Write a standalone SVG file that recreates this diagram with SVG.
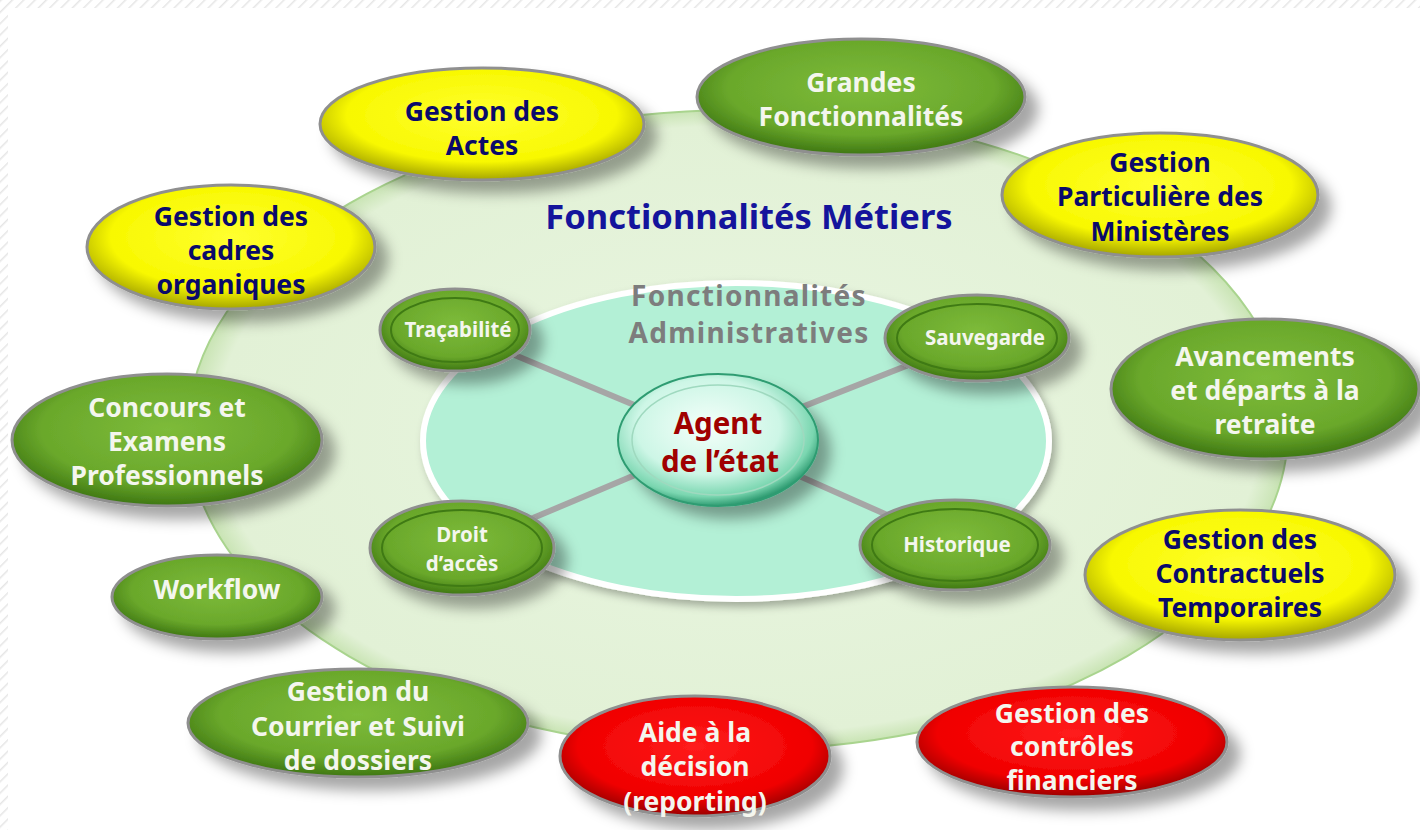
<svg xmlns="http://www.w3.org/2000/svg" width="1420" height="830" viewBox="0 0 1420 830">
<defs>
<style>
.t{font-family:"Noto Sans","DejaVu Sans",sans-serif;font-weight:bold;text-anchor:middle}
.wt{fill:#f4f6ee;font-size:26.5px}
.nt{fill:#0a0a6a;font-size:26.5px}
.st{fill:#f4f6ee;font-size:20.5px}
.adm{font-size:28px;fill:#7d7d7d;letter-spacing:1.3px}
.node{stroke:#8f8f8f;stroke-width:3}
.ring{fill:none;stroke:#3f7a14;stroke-width:2}
.conn{stroke:#a6a6a6;stroke-width:6;stroke-linecap:round}
</style>
<pattern id="hatch" width="8" height="8" patternUnits="userSpaceOnUse" patternTransform="rotate(45)">
<rect width="8" height="8" fill="#ffffff"/>
<line x1="0" y1="0" x2="0" y2="8" stroke="#e6e6e6" stroke-width="3"/>
</pattern>
<radialGradient id="gGreen" cx="50%" cy="42%" r="58%">
<stop offset="0" stop-color="#7dbb3a"/>
<stop offset="0.7" stop-color="#6aa82b"/>
<stop offset="1" stop-color="#3d7612"/>
</radialGradient>
<radialGradient id="gYellow" cx="50%" cy="42%" r="58%">
<stop offset="0" stop-color="#ffff30"/>
<stop offset="0.72" stop-color="#f8f800"/>
<stop offset="1" stop-color="#a5a500"/>
</radialGradient>
<radialGradient id="gRed" cx="50%" cy="42%" r="58%">
<stop offset="0" stop-color="#ff1c1c"/>
<stop offset="0.75" stop-color="#f00000"/>
<stop offset="1" stop-color="#9a0000"/>
</radialGradient>
<radialGradient id="gCenter" cx="45%" cy="40%" r="60%">
<stop offset="0" stop-color="#f4fffa"/>
<stop offset="0.6" stop-color="#cdf6e6"/>
<stop offset="0.88" stop-color="#7ad6b0"/>
<stop offset="1" stop-color="#2f9c72"/>
</radialGradient>
<radialGradient id="gBig" cx="50%" cy="50%" r="50%">
<stop offset="0" stop-color="#e9f6e1"/>
<stop offset="0.95" stop-color="#e2f1d6"/>
<stop offset="1" stop-color="#c9e4b4"/>
</radialGradient>
<filter id="sh" x="-20%" y="-20%" width="150%" height="160%">
<feDropShadow dx="12" dy="12" stdDeviation="7" flood-color="#000" flood-opacity="0.35"/>
</filter>
<filter id="sh2" x="-20%" y="-20%" width="150%" height="160%">
<feDropShadow dx="4" dy="5" stdDeviation="4" flood-color="#000" flood-opacity="0.3"/>
</filter>
</defs>
<rect width="1420" height="830" fill="#ffffff"/>
<rect x="0" y="0" width="1420" height="8" fill="url(#hatch)"/>
<rect x="0" y="0" width="8" height="830" fill="url(#hatch)"/>

<g id="outer-area">
<ellipse cx="738" cy="430" rx="550" ry="320" fill="url(#gBig)" stroke="#a9d48e" stroke-width="2"/>
<text class="t" x="749" y="229" style="font-size:34.5px;fill:#14149c">Fonctionnalités Métiers</text>
</g>
<g id="inner-area">
<ellipse cx="736" cy="441" rx="313" ry="158" fill="#b3f0d6" stroke="#ffffff" stroke-width="6" filter="url(#sh2)"/>
<text class="t adm" x="749" y="306">Fonctionnalités</text>
<text class="t adm" x="749" y="343">Administratives</text>
</g>

<g id="connectors">
<line class="conn" x1="718" y1="440" x2="455" y2="330"/>
<line class="conn" x1="718" y1="440" x2="977" y2="338"/>
<line class="conn" x1="718" y1="440" x2="462" y2="548"/>
<line class="conn" x1="718" y1="440" x2="955" y2="545"/>
</g>

<g id="agent">
<ellipse cx="718" cy="440" rx="100" ry="66" fill="url(#gCenter)" stroke="#2f9c72" stroke-width="2" filter="url(#sh)"/>
<ellipse cx="718" cy="440" rx="86" ry="55" fill="none" stroke="#9fd9bf" stroke-width="1.5"/>
<text class="t" x="718" y="434" style="font-size:29.5px;fill:#a00000">Agent</text>
<text class="t" x="720" y="472" style="font-size:29.5px;fill:#a00000">de l’état</text>
</g>

<g id="tracabilite">
<ellipse class="node" cx="455" cy="330" rx="75" ry="41" fill="url(#gGreen)" filter="url(#sh)"/>
<ellipse class="ring" cx="455" cy="330" rx="64" ry="32"/>
<text class="t st" x="458" y="337">Traçabilité</text>
</g>
<g id="sauvegarde">
<ellipse class="node" cx="977" cy="338" rx="92" ry="43" fill="url(#gGreen)" filter="url(#sh)"/>
<ellipse class="ring" cx="977" cy="338" rx="80" ry="34"/>
<text class="t st" x="985" y="345">Sauvegarde</text>
</g>
<g id="droit">
<ellipse class="node" cx="462" cy="548" rx="92" ry="47" fill="url(#gGreen)" filter="url(#sh)"/>
<ellipse class="ring" cx="462" cy="548" rx="80" ry="38"/>
<text class="t st" x="462" y="542">Droit</text>
<text class="t st" x="462" y="571">d’accès</text>
</g>
<g id="historique">
<ellipse class="node" cx="955" cy="545" rx="95" ry="45" fill="url(#gGreen)" filter="url(#sh)"/>
<ellipse class="ring" cx="955" cy="545" rx="83" ry="36"/>
<text class="t st" x="957" y="552">Historique</text>
</g>

<g id="actes">
<ellipse class="node" cx="482" cy="124" rx="162" ry="56" fill="url(#gYellow)" filter="url(#sh)"/>
<text class="t nt" x="482" y="121">Gestion des</text>
<text class="t nt" x="482" y="155">Actes</text>
</g>
<g id="grandes">
<ellipse class="node" cx="861" cy="97" rx="164" ry="58" fill="url(#gGreen)" filter="url(#sh)"/>
<text class="t wt" x="861" y="92">Grandes</text>
<text class="t wt" x="861" y="126">Fonctionnalités</text>
</g>
<g id="particuliere">
<ellipse class="node" cx="1160" cy="195" rx="158" ry="62" fill="url(#gYellow)" filter="url(#sh)"/>
<text class="t nt" x="1160" y="172">Gestion</text>
<text class="t nt" x="1160" y="206">Particulière des</text>
<text class="t nt" x="1160" y="241">Ministères</text>
</g>
<g id="cadres">
<ellipse class="node" cx="231" cy="247" rx="144" ry="62" fill="url(#gYellow)" filter="url(#sh)"/>
<text class="t nt" x="231" y="226">Gestion des</text>
<text class="t nt" x="231" y="260">cadres</text>
<text class="t nt" x="231" y="294">organiques</text>
</g>
<g id="concours">
<ellipse class="node" cx="167" cy="440" rx="155" ry="66" fill="url(#gGreen)" filter="url(#sh)"/>
<text class="t wt" x="167" y="417">Concours et</text>
<text class="t wt" x="167" y="451">Examens</text>
<text class="t wt" x="167" y="485">Professionnels</text>
</g>
<g id="avancements">
<ellipse class="node" cx="1265" cy="389" rx="154" ry="70" fill="url(#gGreen)" filter="url(#sh)"/>
<text class="t wt" x="1265" y="366">Avancements</text>
<text class="t wt" x="1265" y="400">et départs à la</text>
<text class="t wt" x="1265" y="434">retraite</text>
</g>
<g id="workflow">
<ellipse class="node" cx="217" cy="597" rx="105" ry="42" fill="url(#gGreen)" filter="url(#sh)"/>
<text class="t wt" x="217" y="599">Workflow</text>
</g>
<g id="contractuels">
<ellipse class="node" cx="1240" cy="575" rx="155" ry="65" fill="url(#gYellow)" filter="url(#sh)"/>
<text class="t nt" x="1240" y="549">Gestion des</text>
<text class="t nt" x="1240" y="583">Contractuels</text>
<text class="t nt" x="1240" y="617">Temporaires</text>
</g>
<g id="courrier">
<ellipse class="node" cx="358" cy="723" rx="170" ry="54" fill="url(#gGreen)" filter="url(#sh)"/>
<text class="t wt" x="358" y="701">Gestion du</text>
<text class="t wt" x="358" y="736">Courrier et Suivi</text>
<text class="t wt" x="358" y="770">de dossiers</text>
</g>
<g id="aide">
<ellipse class="node" cx="695" cy="756" rx="135" ry="60" fill="url(#gRed)" filter="url(#sh)"/>
<text class="t wt" x="695" y="742">Aide à la</text>
<text class="t wt" x="695" y="776">décision</text>
<text class="t wt" x="695" y="811">(reporting)</text>
</g>
<g id="controles">
<ellipse class="node" cx="1072" cy="742" rx="155" ry="55" fill="url(#gRed)" filter="url(#sh)"/>
<text class="t wt" x="1072" y="723">Gestion des</text>
<text class="t wt" x="1072" y="756">contrôles</text>
<text class="t wt" x="1072" y="790">financiers</text>
</g>
</svg>
